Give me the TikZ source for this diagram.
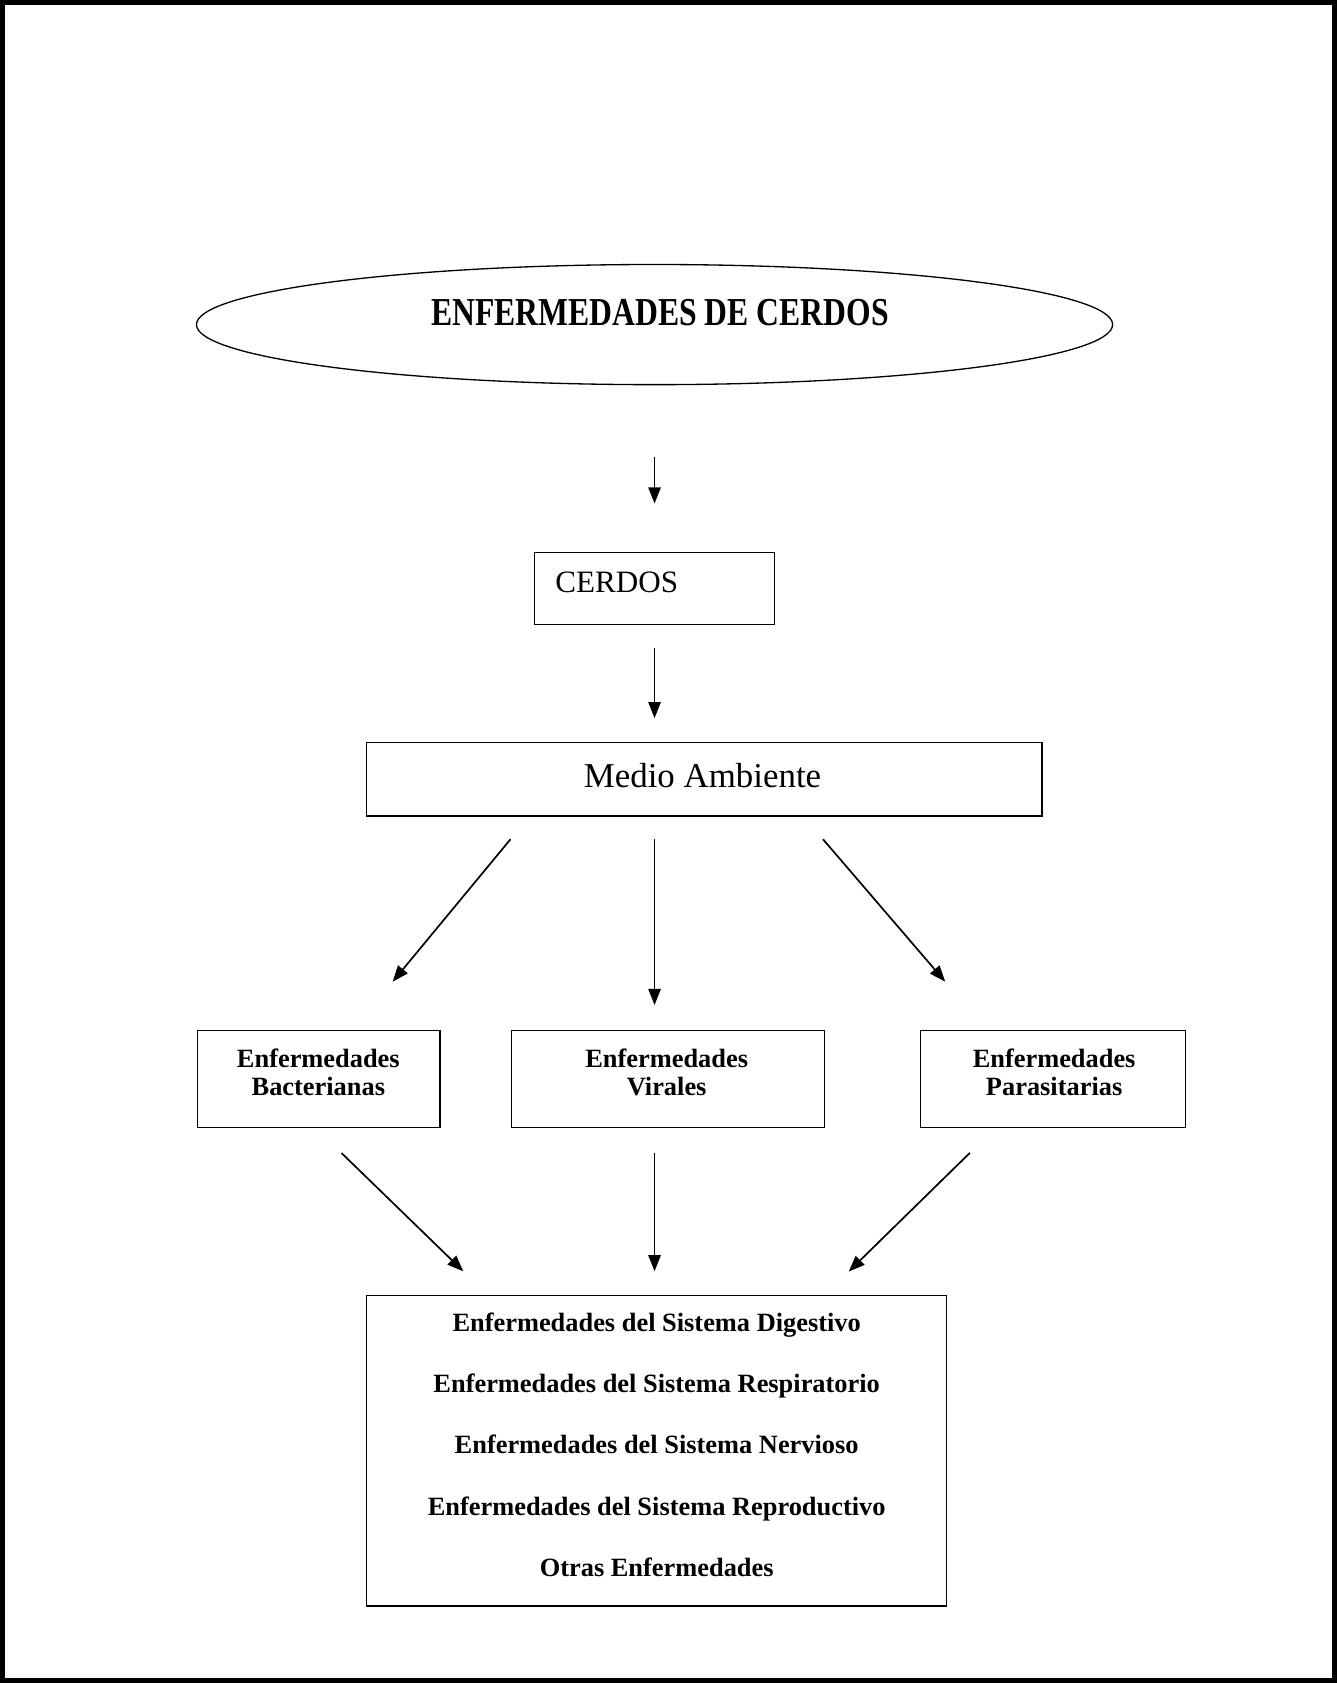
\documentclass[tikz,border=0pt]{standalone}
\usepackage{graphicx}
\usepackage{fontspec}
\setmainfont{Liberation Serif}
\usetikzlibrary{arrows.meta,shapes.geometric,calc}
\begin{document}
\begin{tikzpicture}[x=0.02cm,y=-0.02cm,
  box/.style={draw, line width=0.85pt, inner sep=0pt},
  arr/.style={line width=0.9pt, -{Triangle[length=0.3cm,width=0.23cm]}},
  lbl/.style={anchor=base, inner sep=0pt, font=\fontsize{14}{16}\selectfont\bfseries},
]
\useasboundingbox (0,0) rectangle (1246,1568.5);
\draw[line width=2.4pt] (2.2,2.2) rectangle (1243.8,1566.3);

% title ellipse
\node[draw, ellipse, line width=0.7pt, inner sep=0pt, minimum width=17.08cm, minimum height=2.24cm] (ell) at (610,302.5) {};
\node[anchor=base, inner sep=0pt] (ttl) at (615,303) {\scalebox{0.8}[1]{\fontsize{21}{25}\selectfont\bfseries ENFERMEDADES DE CERDOS}};

% CERDOS
\node[box, minimum width=4.48cm, minimum height=1.34cm] (cerdos) at (610,548.5) {};
\node[anchor=base west, inner sep=0pt, font=\fontsize{16.5}{19}\selectfont] (tcer) at (517.2,552) {CERDOS};

% Medio Ambiente
\node[box, minimum width=12.59cm, minimum height=1.37cm] (ma) at (656.3,726.3) {};
\node[anchor=base, inner sep=0pt, font=\fontsize{18.5}{22}\selectfont] (tma) at (654.7,733.8) {Medio Ambiente};

% three middle boxes
\node[box, minimum width=4.52cm, minimum height=1.81cm] (bact) at (297,1005.6) {};
\node[lbl] (tb1) at (296.7,994.5) {Enfermedades};
\node[lbl] (tb2) at (296.7,1021) {Bacterianas};

\node[box, minimum width=5.83cm, minimum height=1.81cm] (vir) at (622.5,1005.6) {};
\node[lbl] (tv1) at (621.3,994.5) {Enfermedades};
\node[lbl] (tv2) at (621.3,1021) {Virales};

\node[box, minimum width=4.94cm, minimum height=1.81cm] (par) at (981.5,1005.6) {};
\node[lbl] (tp1) at (982.4,994.5) {Enfermedades};
\node[lbl] (tp2) at (982.4,1021) {Parasitarias};

% bottom box
\node[box, minimum width=10.81cm, minimum height=5.79cm] (bot) at (611.9,1352.2) {};
\node[lbl] (l1) at (612,1241) {Enfermedades del Sistema Digestivo};
\node[lbl] (l2) at (612,1298) {Enfermedades del Sistema Respiratorio};
\node[lbl] (l3) at (612,1355) {Enfermedades del Sistema Nervioso};
\node[lbl] (l4) at (612,1412) {Enfermedades del Sistema Reproductivo};
\node[lbl] (l5) at (612,1469) {Otras Enfermedades};

% arrows
\draw[arr, shorten <=1.34cm, shorten >=0.9cm] (ell.south) -- (cerdos.north);
\draw[arr, shorten <=0.42cm, shorten >=0.44cm] (cerdos.south) -- (cerdos.south |- ma.north);
\draw[arr, shorten <=0.54cm, shorten >=1.16cm] ($(ma.south)+(-163.3,0)$) -- ($(bact.north)+(32,0)$);
\draw[arr, shorten <=0.42cm, shorten >=0.46cm] (cerdos.south |- ma.south) -- (cerdos.south |- vir.north);
\draw[arr, shorten <=0.55cm, shorten >=1.18cm] ($(ma.south)+(92.8,0)$) -- ($(par.north)+(-62.2,0)$);
\draw[arr, shorten <=0.66cm, shorten >=0.63cm] ($(bact.south)+(-2.4,0)$) -- ($(bot.north)+(-157.5,0)$);
\draw[arr, shorten <=0.46cm, shorten >=0.44cm] (cerdos.south |- vir.south) -- (cerdos.south |- bot.north);
\draw[arr, shorten <=0.65cm, shorten >=0.62cm] ($(par.south)+(-54.3,0)$) -- ($(bot.north)+(156.9,0)$);
\end{tikzpicture}
\end{document}
